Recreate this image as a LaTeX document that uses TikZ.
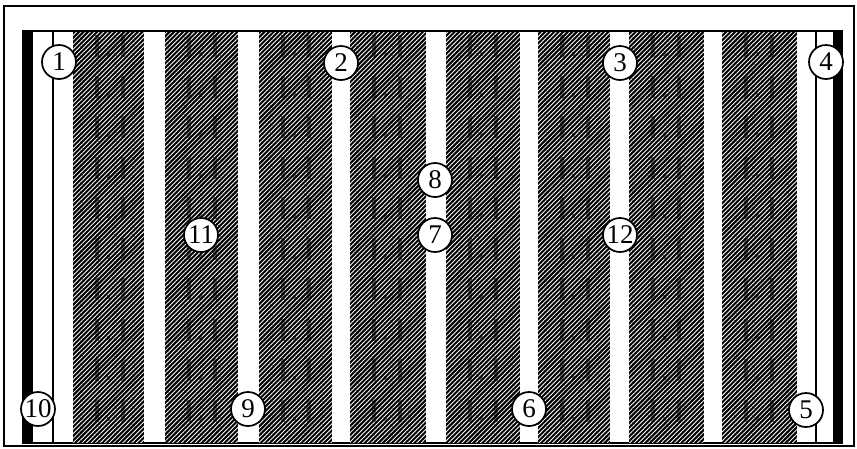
\documentclass[tikz,border=0pt]{standalone}
\usepackage{fontspec}
\setmainfont{Liberation Serif}
\usetikzlibrary{patterns.meta}

\tikzset{
  frame/.style={draw=black, line width=1.6pt},
  hatch/.style={pattern={Lines[angle=45,distance=3.2pt,line width=0.85pt]}, pattern color=white},
  ghost/.style={fill=black, opacity=0.5},
  lane/.style={fill=white},
  marker/.style={circle, draw=black, line width=1.7pt, fill=white,
    minimum size=34pt, inner sep=0pt, font=\fontsize{27}{27}\selectfont}
}

\begin{document}
\begin{tikzpicture}[x=1pt,y=-1pt]
\useasboundingbox (0,0) rectangle (857,448);

% outer frame
\draw[frame] (4,6) rectangle (854,446);

% floor area
\fill[black] (22,30) rectangle (843,444);

% shelf blocks with their faint bin labels
\foreach \a/\b in {73/144,165/238,259/332,350/426,446/520,538/610,629/704,722/797}{
  \fill[hatch] (\a,32) rectangle (\b,442);
  \foreach \k in {0,...,9}{
    \fill[ghost] ({\a+22},{35+40.5*\k}) rectangle ++(4,22);
    \fill[ghost] ({\a+34},{52+40.5*\k}) rectangle ++(3,4);
    \fill[ghost] ({\a+48},{35+40.5*\k}) rectangle ++(4,22);
  }
}

% aisles
\foreach \a/\b in {33/52,54/73,144/165,238/259,332/350,426/446,520/538,610/629,704/722,797/815,817/833}{
  \fill[lane] (\a,32) rectangle (\b,442);
}

% numbered points
\node[marker] (c1)  at (59,62)   {1};
\node[marker] (c2)  at (341,63)  {2};
\node[marker] (c3)  at (620,63)  {3};
\node[marker] (c4)  at (826,62)  {4};
\node[marker] (c5)  at (806,410) {5};
\node[marker] (c6)  at (529,409) {6};
\node[marker] (c7)  at (435,235) {7};
\node[marker] (c8)  at (435,180) {8};
\node[marker] (c9)  at (248,409) {9};
\node[marker] (c10) at (38,409)  {10};
\node[marker] (c11) at (201,235) {11};
\node[marker] (c12) at (620,235) {12};
\end{tikzpicture}
\end{document}
